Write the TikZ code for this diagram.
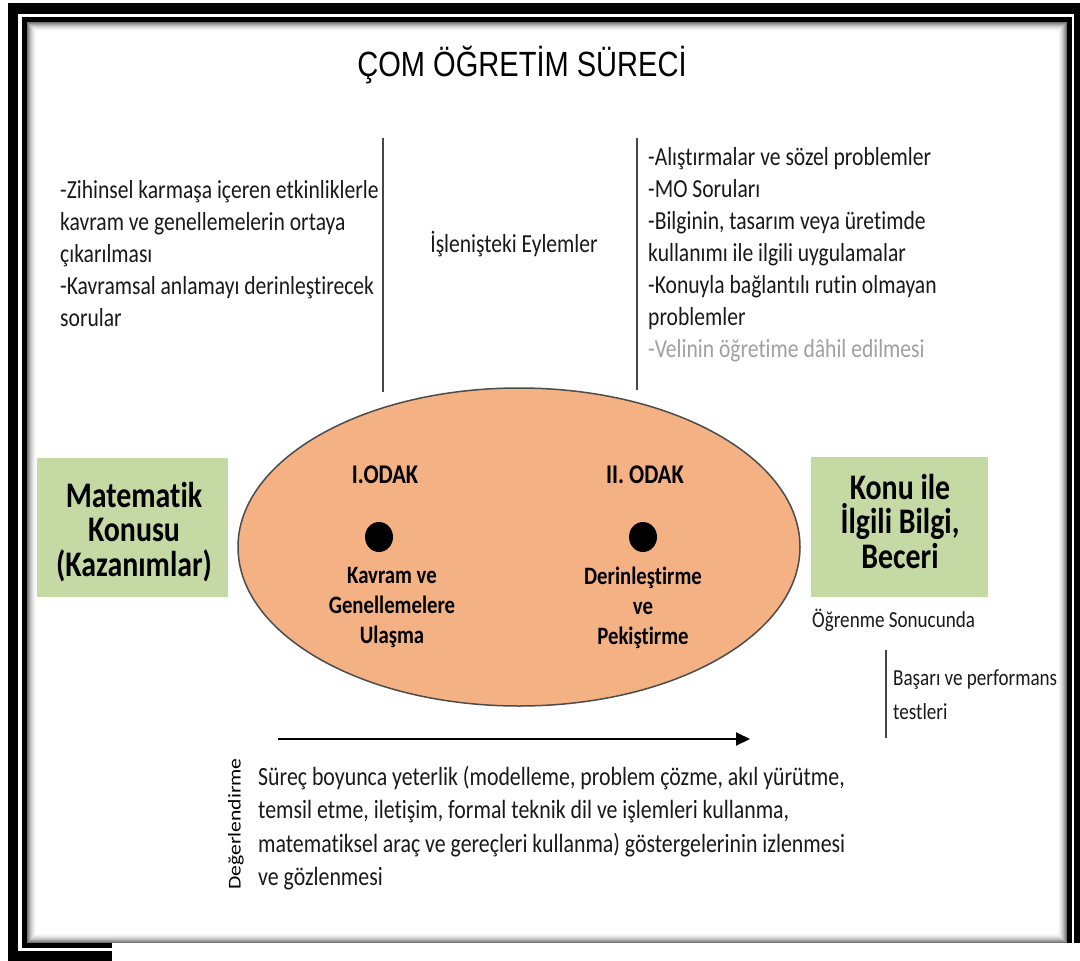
\documentclass[tikz,border=0pt]{standalone}
\usepackage{fontspec}
\setmainfont{Carlito}[FakeStretch=0.83, Ligatures=NoCommon]
\newfontfamily\headfont{Liberation Sans}[FakeStretch=0.83]
\newfontfamily\sidefont{Carlito}[FakeStretch=1.2, Ligatures=NoCommon]
\usetikzlibrary{shapes.geometric,arrows.meta}
\definecolor{boxgreen}{RGB}{197,217,165}
\definecolor{ovalfill}{RGB}{244,177,131}
\definecolor{inkgray}{RGB}{70,70,70}
\definecolor{softgray}{RGB}{160,160,160}
\tikzset{
  body/.style={font=\fontsize{26}{32}\selectfont, inner sep=0pt, align=left, text=black!90},
  small/.style={font=\fontsize{23}{34}\selectfont, inner sep=0pt, align=left, text=black!90},
  focus/.style={font=\fontsize{25}{30}\selectfont\bfseries, inner sep=0pt, align=center},
  topic/.style={fill=boxgreen, inner sep=0pt},
  topictext/.style={font=\fontsize{36}{34.5}\selectfont\bfseries, align=center, inner sep=0pt},
  rule/.style={draw=inkgray, line width=2pt},
  dot/.style={fill=black, ellipse, inner sep=0pt, minimum width=28pt, minimum height=30pt}
}
\begin{document}
\begin{tikzpicture}[x=1pt,y=-1pt]
\useasboundingbox (0,0) rectangle (1080,961);
\fill[white] (0,0) rectangle (1080,961);

% double black frame
\fill[black] (8,3) rectangle (18,961);
\fill[black] (8,3) rectangle (1080,14);
\fill[black] (1074,3) rectangle (1080,943);
\fill[black] (8,951) rectangle (112,961);
\fill[black] (22,17) rectangle (27,948);
\fill[black] (22,17) rectangle (1072,22);
\fill[black] (1067,17) rectangle (1072,943);
\fill[black] (22,943) rectangle (112,948);
% inner shadow of the panel
\foreach \i in {0,...,9}{
  \pgfmathsetmacro\op{0.55*(1-\i/10)^2}
  \draw[black, opacity=\op, line width=1pt]
    (27+\i+0.5,22+\i+0.5) rectangle (1067-\i-0.5,943-\i-0.5);
}

% title
\node[font=\headfont\fontsize{35}{40}\selectfont, inner sep=0pt] (title) at (522,65) {ÇOM ÖĞRETİM SÜRECİ};

% upper text columns and separators
\coordinate (l1) at (383,138); \coordinate (l2) at (383,392);
\coordinate (r1) at (637,138); \coordinate (r2) at (637,390);
\draw[rule] (l1) -- (l2);
\draw[rule] (r1) -- (r2);

\node[body, anchor=west] (discover) at (60,254) {-Zihinsel karmaşa içeren etkinliklerle\\kavram ve genellemelerin ortaya\\çıkarılması\\-Kavramsal anlamayı derinleştirecek\\sorular};
\node[body] (actions) at (514,244) {İşlenişteki Eylemler};
\node[body, anchor=west] (practice) at (648,255) {-Alıştırmalar ve sözel problemler\\-MO Soruları\\-Bilginin, tasarım veya üretimde\\kullanımı ile ilgili uygulamalar\\-Konuyla bağlantılı rutin olmayan\\problemler\\{\color{softgray}-Velinin öğretime dâhil edilmesi}};

% the two foci
\node[ellipse, draw=black!70, line width=1.5pt, fill=ovalfill, minimum width=562pt, minimum height=318pt] (oval) at (519,547) {};
\node[focus, font=\fontsize{27}{30}\selectfont\bfseries] (f1) at (385,475) {I.ODAK};
\node[dot] (d1) at (379,537) {};
\node[focus] (f1t) at (392,607) {Kavram ve\\Genellemelere\\Ulaşma};
\node[focus, font=\fontsize{27}{30}\selectfont\bfseries] (f2) at (645,475) {II. ODAK};
\node[dot] (d2) at (643,537) {};
\node[focus] (f2t) at (643,608) {Derinleştirme\\ve\\Pekiştirme};

% input and outcome boxes
\node[topic, minimum width=191pt, minimum height=139pt] (input) at (132.5,527.5) {};
\node[topictext] (inputt) at (134,532) {Matematik\\Konusu\\(Kazanımlar)};
\node[topic, minimum width=177pt, minimum height=140pt] (output) at (899.5,527) {};
\node[topictext] (outputt) at (900,521) {Konu ile\\İlgili Bilgi,\\Beceri};
\node[small, anchor=west] (result) at (812,620) {Öğrenme Sonucunda};
\coordinate (t1) at (886,650); \coordinate (t2) at (886,738);
\draw[rule] (t1) -- (t2);
\node[small, anchor=west] (tests) at (893,695) {Başarı ve performans\\testleri};

% process arrow and evaluation
\coordinate (a1) at (278,739); \coordinate (a2) at (750,739);
\draw[black, line width=2pt, -{Triangle[length=14pt,width=13pt]}] (a1) -- (a2);
\node[font=\sidefont\fontsize{18}{20}\selectfont, rotate=90, inner sep=0pt] (eval) at (236,824) {Değerlendirme};
\node[body, anchor=west, font=\fontsize{26.3}{33.3}\selectfont] (process) at (258,828) {Süreç boyunca yeterlik (modelleme, problem çözme, akıl yürütme,\\temsil etme, iletişim, formal teknik dil ve işlemleri kullanma,\\matematiksel araç ve gereçleri kullanma) göstergelerinin izlenmesi\\ve gözlenmesi};
\end{tikzpicture}
\end{document}
